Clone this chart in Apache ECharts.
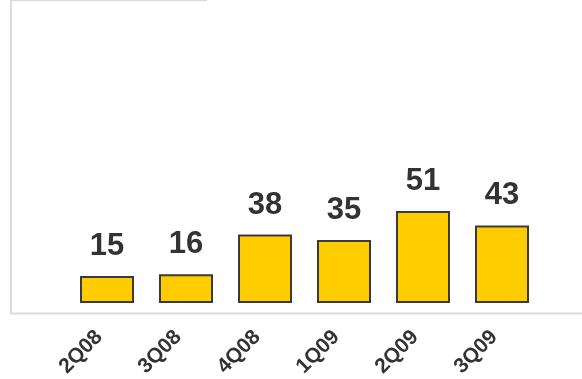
<!DOCTYPE html>
<html>
<head>
<meta charset="utf-8">
<script src="https://cdn.jsdelivr.net/npm/echarts@6/dist/echarts.min.js"></script>
<style>
  html, body { margin: 0; padding: 0; background: #fff; }
  #chart { width: 582px; height: 379px; }
</style>
</head>
<body>
<div id="chart"></div>
<script>
// Quarterly values
const quarters = ['2Q08', '3Q08', '4Q08', '1Q09', '2Q09', '3Q09'];
const values = [15, 16, 38, 35, 51, 43];

const chart = echarts.init(document.getElementById('chart'), null, { renderer: 'canvas' });

const frameColor = '#dcdcdc';
const textColor = '#333333';

chart.setOption({
  backgroundColor: '#ffffff',
  animation: false,
  grid: { left: 67.5, right: 40.5, top: 0, bottom: 76, outerBoundsMode: 'none', containLabel: false },
  xAxis: {
    type: 'category',
    data: quarters,
    offset: 10,
    axisLine: { show: false },
    axisTick: { show: false },
    axisLabel: {
      rotate: 45,
      margin: 13,
      padding: [0, 11, 0, 0],
      color: textColor,
      fontFamily: 'Liberation Sans, Arial, sans-serif',
      fontWeight: 'bold',
      fontSize: 21
    }
  },
  yAxis: {
    type: 'value',
    min: 0,
    max: 168,
    show: false,
    splitLine: { show: false }
  },
  series: [{
    type: 'bar',
    data: values,
    barWidth: 54,
    itemStyle: { color: '#ffcc00', borderColor: '#3a3a3a', borderWidth: 2 },
    label: {
      show: true,
      position: 'top',
      distance: 14,
      color: textColor,
      fontFamily: 'Liberation Sans, Arial, sans-serif',
      fontWeight: 'bold',
      fontSize: 31
    }
  }],
  graphic: [
    { type: 'line', shape: { x1: 11, y1: 0, x2: 11, y2: 314 }, style: { stroke: frameColor, lineWidth: 2 } },
    { type: 'line', shape: { x1: 10, y1: 0.5, x2: 207, y2: 0.5 }, style: { stroke: frameColor, lineWidth: 1.5 } },
    { type: 'line', shape: { x1: 10, y1: 313.5, x2: 582, y2: 313.5 }, style: { stroke: frameColor, lineWidth: 2 } }
  ]
});
</script>
</body>
</html>
